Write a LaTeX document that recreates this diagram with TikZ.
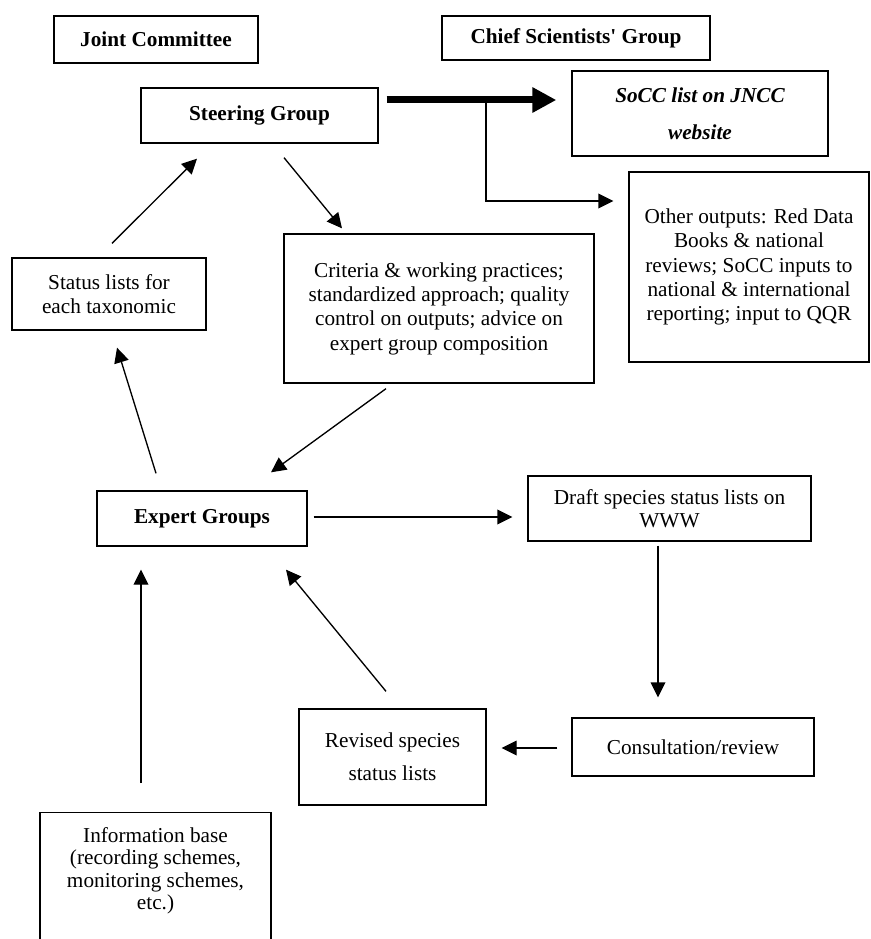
\documentclass[tikz,border=0pt]{standalone}
\usepackage{fontspec}
\setmainfont{Liberation Serif}
\usetikzlibrary{arrows.meta,calc}
\tikzset{
  font=\fontsize{12.75}{14.6}\selectfont,
  box/.style={draw=black,line width=.8pt,fill=white,align=center,inner sep=2pt},
  title/.style={box,font=\fontsize{12.75}{14.6}\selectfont\bfseries},
  link/.style={-{Triangle[length=9pt,width=8.8pt]},line width=.8pt},
  main/.style={-{Triangle[length=14.4pt,width=14.4pt]},line width=4.2pt}
}
\begin{document}
\begin{tikzpicture}[x=0.6pt,y=-0.6pt]
\clip (0,0) rectangle (870,939);

% top row
\node[title,minimum width=122.4pt,minimum height=28.2pt] (joint) at (156,39.5) {Joint Committee};
\node[title,minimum width=160.8pt,minimum height=26.4pt] (chief) at (576,38) {Chief Scientists\textquotesingle\ Group};
\node[title,minimum width=142.2pt,minimum height=33pt] (steer) at (259.5,115.5) {Steering Group};
\node[title,font=\fontsize{12.75}{14.6}\selectfont\bfseries\itshape,minimum width=153.6pt,minimum height=51pt] (socc) at (700,113.5) {SoCC list on JNCC\\[7.6pt]website};
\node[box,minimum width=144pt,minimum height=114pt] (other) at (749,267) {Other outputs: Red Data\\Books \& national\\reviews; SoCC inputs to\\national \& international\\reporting; input to QQR};

% middle
\node[box,minimum width=116.4pt,minimum height=43.2pt] (status) at (109,294) {Status lists for\\each taxonomic};
\node[box,minimum width=186pt,minimum height=89.4pt] (crit) at (439,308.5) {Criteria \& working practices;\\standardized approach; quality\\control on outputs; advice on\\expert group composition};
\node[title,minimum width=126pt,minimum height=33pt] (expert) at (202,518.5) {Expert Groups};
\node[box,minimum width=169.8pt,minimum height=39pt] (draft) at (669.5,508.5) {Draft species status lists on\\[-.8pt]WWW};

% bottom
\node[box,minimum width=145.2pt,minimum height=34.8pt] (consult) at (693,747) {Consultation/review};
\node[box,minimum width=112.2pt,minimum height=57.6pt] (revised) at (392.5,757) {Revised species\\[5pt]status lists};
\node[box,anchor=north,minimum width=138.6pt,inner ysep=9pt] (info) at (155.5,812) {Information base\\[-1.2pt](recording schemes,\\[-1.2pt]monitoring schemes,\\[-1.2pt]etc.)\rule[-60pt]{0pt}{0pt}};

% outputs of the steering group
\coordinate (fork) at (486,100);
\draw[main] ($(steer.east)+(8,-15.5)$) -- ($(socc.west)+(-15,-13.5)$);
\draw[link] (fork) |- ($(other.west)+(-15,-66)$);

% cycle
\draw[link] ($(status.north)+(3,-14)$) -- ($(steer.south)+(-62.5,15)$);
\draw[link] ($(steer.south)+(24.5,14)$) -- ($(crit.north)+(-97,-5)$);
\draw[link] ($(crit.south)+(-53,5)$) -- ($(expert.north)+(69,-18)$);
\draw[link] ($(expert.north)+(-46,-17)$) -- ($(status.south)+(8,17)$);
\draw[link] ($(expert.east)+(6,-1.5)$) -- ($(draft.west)+(-15,8.5)$);
\draw[link] ($(draft.south)+(-11.5,4)$) -- ($(consult.north)+(-35,-20)$);
\draw[link] ($(consult.west)+(-14,1)$) -- ($(revised.east)+(15,-9)$);
\draw[link] ($(revised.north)+(-6.5,-17)$) -- ($(expert.south)+(84,23)$);
\draw[link] ($(info.north)+(-14.5,-29)$) -- ($(expert.south)+(-61,23)$);
\end{tikzpicture}
\end{document}
